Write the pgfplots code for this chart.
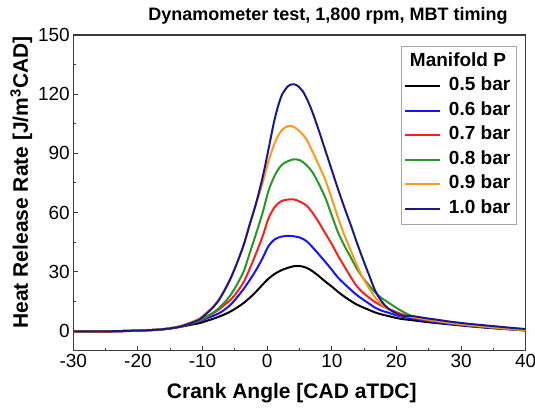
\documentclass[border=0pt]{standalone}
\usepackage{fontspec}
\setmainfont{Liberation Sans}
\usepackage{pgfplots}
\pgfplotsset{compat=1.18}

\definecolor{axisgray}{RGB}{60,60,60}
\definecolor{legendgray}{RGB}{165,165,165}
\definecolor{hrblue}{RGB}{20,20,255}
\definecolor{hrred}{RGB}{250,30,30}
\definecolor{hrgreen}{RGB}{40,150,40}
\definecolor{hrorange}{RGB}{255,150,30}
\definecolor{hrnavy}{RGB}{25,25,140}

\begin{document}
\begin{tikzpicture}
\begin{axis}[
scale only axis,
width=452.4bp, height=315.7bp,
xmin=-30, xmax=40,
ymin=-10, ymax=150,
xtick={-30,-20,...,40},
ytick={0,30,...,150},
minor x tick num=1,
minor y tick num=1,
tick align=inside,
tick pos=left,
major tick length=5bp,
minor tick length=3bp,
axis line style={draw=axisgray, line width=1.2bp},
tick style={draw=axisgray, line width=1bp},
tick label style={font=\fontsize{19bp}{22bp}\selectfont},
/pgf/number format/assume math mode=true,
title={Dynamometer test, 1,800 rpm, MBT timing},
title style={font=\bfseries\fontsize{18bp}{22bp}\selectfont,
  at={(0.563,1)}, anchor=base, yshift=8.3bp},
xlabel={Crank Angle [CAD aTDC]},
ylabel={Heat Release Rate [J/m\textsuperscript{3}CAD]},
label style={font=\bfseries\fontsize{21bp}{25bp}\selectfont},
xlabel style={at={([yshift=-47.6bp]axis description cs:0.483,0)}, anchor=base},
ylabel style={at={([xshift=-45.3bp]axis description cs:0,0.533)}, anchor=base, rotate=0},
legend cell align={left},
legend image code/.code={\draw[#1] (0bp,0bp) -- (35bp,0bp);},
legend style={at={(0.980,0.965)}, anchor=north east,
  draw=legendgray, line width=0.8bp,
  font=\bfseries\fontsize{19bp}{22bp}\selectfont,
  inner sep=3bp, column sep=5bp,
  nodes={text height=14bp, text depth=4.5bp, inner sep=3bp}},
every axis plot/.append style={line width=2bp, smooth, tension=0.5},
]
\addlegendimage{empty legend}
\addlegendentry{\hspace*{-39bp}Manifold P}

\addplot [black] table {
-30 -0.2
-25 -0.2
-20.1 0.2
-17.2 0.6
-15.3 1.2
-13.4 2.1
-11.4 3.4
-10.4 4.0
-9.5 5.0
-8.5 6.0
-7.5 7.2
-6.6 8.4
-5.6 10.0
-4.6 12.0
-3.6 14.3
-2.7 16.8
-1.7 20.0
-0.7 23.5
0.2 26.5
1.2 29.0
2.2 30.8
3.2 32.0
4.1 32.8
5.1 32.9
6.1 32.0
7.0 30.3
8.0 27.8
9.0 25.0
10.0 22.5
10.9 20.0
11.9 17.5
12.9 15.3
13.8 13.5
14.8 12.0
15.8 10.6
16.7 9.4
17.7 8.4
18.7 7.6
20.6 6.2
22.6 5.4
24.5 4.6
26.5 3.9
28.4 3.3
31.3 2.4
34.2 1.6
38.1 0.7
40 0.3
};
\addlegendentry{0.5 bar}

\addplot [hrblue] table {
-30 -0.2
-25 -0.2
-20.1 0.2
-17.2 0.6
-15.3 1.2
-13.4 2.3
-11.4 4.0
-10.4 5.0
-9.5 6.2
-8.5 7.5
-7.5 8.9
-6.6 10.8
-5.6 13.5
-4.6 17.3
-3.6 21.5
-2.7 25.8
-1.7 31.0
-0.7 37.0
0.2 43.0
1.2 46.5
2.2 47.8
3.2 48.2
4.1 48.0
5.1 47.3
6.1 45.5
7.0 42.5
8.0 38.8
9.0 35.0
10.0 31.0
10.9 27.3
11.9 24.0
12.9 21.0
13.8 18.4
14.8 16.0
15.8 13.8
16.7 11.8
17.7 10.3
18.7 9.3
20.6 7.4
22.6 6.2
24.5 5.1
26.5 4.2
28.4 3.5
31.3 2.5
34.2 1.7
38.1 0.7
40 0.3
};
\addlegendentry{0.6 bar}

\addplot [hrred] table {
-30 -0.3
-25 -0.4
-20.1 0.1
-17.2 0.5
-15.3 1.1
-13.4 2.2
-11.4 4.2
-10.4 5.3
-9.5 6.8
-8.5 8.7
-7.5 10.8
-6.6 13.2
-5.6 16.0
-4.6 20.0
-3.6 25.0
-2.7 31.5
-1.7 39.5
-0.7 48.0
0.2 57.0
1.2 63.0
2.2 65.8
3.2 66.6
4.1 66.7
5.1 65.5
6.1 63.5
7.0 60.0
8.0 55.0
9.0 49.5
10.0 44.0
10.9 38.5
11.9 33.0
12.9 27.5
13.8 23.0
14.8 19.5
15.8 16.8
16.7 14.6
17.7 12.8
18.7 11.3
20.6 8.8
22.6 6.8
24.5 5.6
26.5 4.7
28.4 3.9
31.3 2.8
34.2 1.9
38.1 0.8
40 0.3
};
\addlegendentry{0.7 bar}

\addplot [hrgreen] table {
-30 -0.2
-25 -0.2
-20.1 0.2
-17.2 0.6
-15.3 1.2
-13.4 2.3
-11.4 4.3
-10.4 5.5
-9.5 7.2
-8.5 9.0
-7.5 11.5
-6.6 14.5
-5.6 18.5
-4.6 24.0
-3.6 30.5
-2.7 39.5
-1.7 49.5
-0.7 60.0
0.2 71.0
1.2 79.0
2.2 84.0
3.2 86.0
4.1 87.0
5.1 86.5
6.1 84.0
7.0 80.5
8.0 74.5
9.0 67.5
10.0 58.5
10.9 50.5
11.9 43.5
12.9 37.5
13.8 32.0
14.8 27.0
15.8 23.0
16.7 19.5
17.7 16.7
18.7 14.5
20.6 10.5
22.6 7.3
24.5 6.0
26.5 4.9
28.4 4.0
31.3 2.9
34.2 2.0
38.1 0.8
40 0.3
};
\addlegendentry{0.8 bar}

\addplot [hrorange] table {
-30 -0.2
-25 -0.2
-20.1 0.3
-17.2 0.7
-15.3 1.4
-13.4 2.6
-11.4 5.0
-10.4 6.5
-9.5 9.0
-8.5 12.0
-7.5 16.0
-6.6 21.0
-5.6 27.5
-4.6 35.0
-3.6 44.0
-2.7 54.0
-1.7 64.5
-0.7 75.0
0.2 86.0
1.2 95.5
2.2 101.5
3.2 103.8
4.1 103.5
5.1 101.0
6.1 97.0
7.0 91.0
8.0 84.0
9.0 76.5
10.0 67.0
10.9 58.0
11.9 49.0
12.9 41.0
13.8 34.0
14.8 27.0
15.8 21.5
16.7 17.0
17.7 13.5
18.7 11.0
20.6 8.0
22.6 7.0
24.5 6.0
26.5 5.0
28.4 4.1
31.3 3.0
34.2 2.1
38.1 0.9
40 0.4
};
\addlegendentry{0.9 bar}

\addplot [hrnavy] table {
-30 -0.2
-25 -0.2
-20.1 0.2
-17.2 0.6
-15.3 1.2
-13.4 2.3
-11.4 4.5
-10.4 6.0
-9.5 8.5
-8.5 11.5
-7.5 15.5
-6.6 20.5
-5.6 27.0
-4.6 35.0
-3.6 44.0
-2.7 54.0
-1.7 65.0
-0.7 78.0
0.2 92.0
1.2 108.0
2.2 119.0
3.2 124.0
3.9 125.0
4.6 124.5
5.5 121.5
6.3 116.5
7.1 110.0
8.0 101.5
9.0 91.5
10.0 81.5
10.9 72.5
11.9 63.0
12.9 54.0
13.8 45.5
14.8 36.5
15.8 28.0
16.7 20.5
17.7 15.0
18.7 11.5
20.6 8.0
22.6 7.5
24.5 6.5
26.5 5.6
28.4 4.7
31.3 3.6
34.2 2.7
38.1 1.5
40 1.0
};
\addlegendentry{1.0 bar}

\coordinate (bl) at (rel axis cs:0,0);
\coordinate (tr) at (rel axis cs:1,1);
\end{axis}
\pgfresetboundingbox
\path ([shift={(-73.3bp,-58.3bp)}]bl) rectangle ([shift={(9.3bp,35bp)}]tr);
\end{tikzpicture}
\end{document}
